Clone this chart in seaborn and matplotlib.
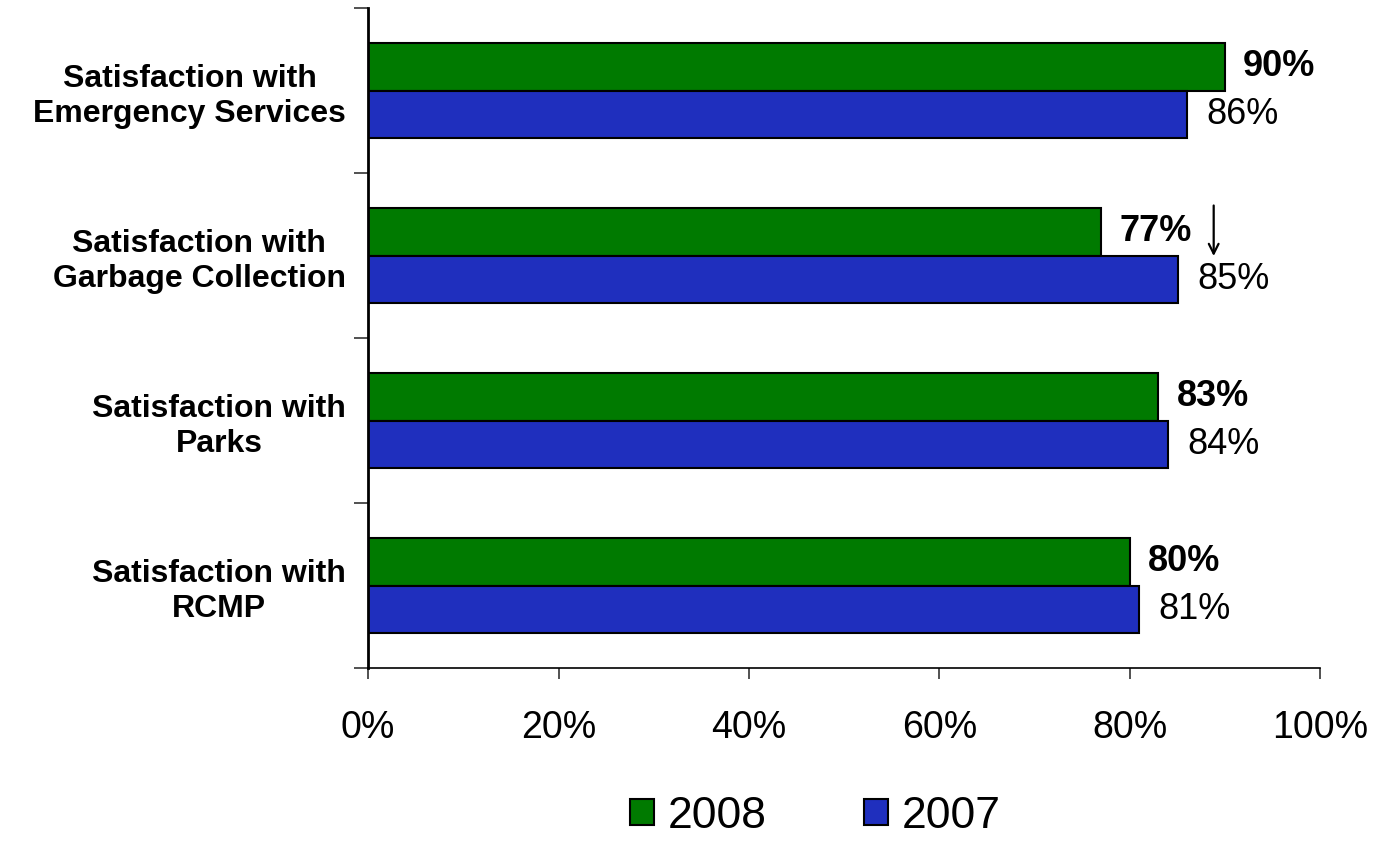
import pandas as pd
import matplotlib
matplotlib.use('Agg')
import matplotlib.pyplot as plt
import seaborn as sns

# 항목별 만족도 (2008 vs 2007)
categories = ['Satisfaction with\nEmergency Services',
              'Satisfaction with\nGarbage Collection',
              'Satisfaction with\nParks',
              'Satisfaction with\nRCMP']
years = ['2008', '2007']
vals_2008 = [90, 77, 83, 80]
vals_2007 = [86, 85, 84, 81]
x_ticks = [0, 20, 40, 60, 80, 100]

df = pd.DataFrame({
    'category': categories * 2,
    'year': [years[0]] * len(categories) + [years[1]] * len(categories),
    'value': vals_2008 + vals_2007,
})

sns.set_style('white')
plt.rcParams['font.family'] = ['Liberation Sans', 'DejaVu Sans']
plt.rcParams['text.color'] = 'black'
plt.rcParams['xtick.color'] = 'black'
plt.rcParams['ytick.color'] = 'black'

fig = plt.figure(figsize=(13.84, 8.44), dpi=100)
ax = fig.add_axes([0.266, 0.2085, 0.688, 0.782])

sns.barplot(data=df, y='category', x='value', hue='year', hue_order=years,
            palette={'2008': '#007A00', '2007': '#1F2FBE'}, width=0.58,
            edgecolor='black', linewidth=1.5, saturation=1, ax=ax)

# 막대 값 라벨
ax.bar_label(ax.containers[0], labels=[f'{v}%' for v in vals_2008], padding=13,
             fontsize=26, fontweight='bold')
ax.bar_label(ax.containers[1], labels=[f'{v}%' for v in vals_2007], padding=14,
             fontsize=26)

# 감소 화살표 (Garbage Collection)
arrow_x = vals_2008[1] + 11.8
ax.annotate('', xy=(arrow_x, 1.02), xytext=(arrow_x, 0.68),
            arrowprops=dict(arrowstyle='->,head_length=0.7,head_width=0.35',
                            color='black', lw=1.6))

# 축
ax.set_xlim(0, 100)
ax.set_ylim(3.5, -0.5)
ax.set_xticks(x_ticks)
ax.set_xticklabels([f'{t}%' for t in x_ticks], fontsize=27)
ax.set_yticks(range(len(categories)))
ax.set_yticklabels(categories, fontsize=23, fontweight='bold')
for lab in ax.get_yticklabels():
    lab.set_multialignment('center')
ax.set_yticks([i - 0.5 for i in range(len(categories) + 1)], minor=True)
ax.tick_params(axis='y', which='major', length=0, pad=16)
ax.tick_params(axis='y', which='minor', length=10, width=1.2, color='#333333', left=True)
ax.tick_params(axis='x', length=8, width=1.2, color='#333333', pad=22, bottom=True)
ax.set_xlabel('')
ax.set_ylabel('')
sns.despine(ax=ax)
ax.spines['left'].set_linewidth(2)
ax.spines['left'].set_color('black')
ax.spines['bottom'].set_linewidth(1.2)
ax.spines['bottom'].set_color('black')

# 범례
ax.legend_.remove()
h, l = ax.get_legend_handles_labels()
fig.legend(h, l, loc='center', bbox_to_anchor=(0.589, 0.033), ncol=2, frameon=False,
           fontsize=32, handlelength=0.55, handleheight=0.55, handletextpad=0.3,
           columnspacing=2.2)

plt.savefig('out.png', dpi=100)
